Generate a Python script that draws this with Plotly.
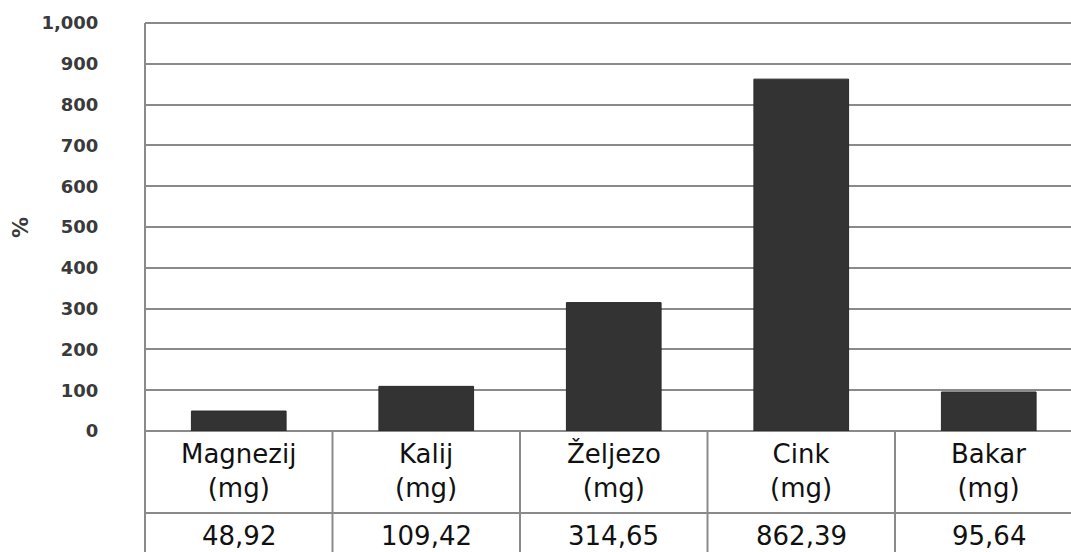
import plotly.graph_objects as go

# data
minerals = ["Magnezij", "Kalij", "Željezo", "Cink", "Bakar"]
units = ["(mg)", "(mg)", "(mg)", "(mg)", "(mg)"]
percent = [48.92, 109.42, 314.65, 862.39, 95.64]
value_labels = ["48,92", "109,42", "314,65", "862,39", "95,64"]
y_ticks = [0, 100, 200, 300, 400, 500, 600, 700, 800, 900, 1000]
y_tick_text = ["0", "100", "200", "300", "400", "500", "600", "700", "800", "900", "1,000"]

LINE = "#8a8a8a"
FONT = "DejaVu Sans"
x_pos = list(range(len(minerals)))

W, H = 1071, 552
ML, MT, MB = 145, 23, 121
plot_w = W - ML
cat_w = 187.5  # pixel width of one category column
x_max = -0.5 + plot_w / cat_w

fig = go.Figure()
fig.add_trace(go.Bar(
    x=x_pos,
    y=percent,
    marker=dict(color="#333333", line=dict(color="#2a2a2a", width=1)),
    hoverinfo="skip",
))

row_split = -0.201
bottom = -0.35
shapes = [
    # top grid line at 1,000
    dict(type="line", xref="paper", yref="paper", x0=0, x1=1, y0=1, y1=1,
         line=dict(color=LINE, width=2)),
    # left border running from top of plot through the table
    dict(type="line", xref="paper", yref="paper", x0=0, x1=0, y0=1, y1=bottom,
         line=dict(color=LINE, width=2)),
    # line between name row and value row
    dict(type="line", xref="paper", yref="paper", x0=0, x1=1, y0=row_split, y1=row_split,
         line=dict(color=LINE, width=2)),
]
for i in x_pos[:-1]:
    shapes.append(dict(type="line", xref="x", yref="paper", x0=i + 0.5, x1=i + 0.5,
                       y0=0, y1=bottom, line=dict(color=LINE, width=2)))

annotations = [
    dict(text="<b>%</b>", xref="paper", yref="paper", x=-124 / plot_w, y=0.5,
         xanchor="center", yanchor="middle", textangle=-90, showarrow=False,
         font=dict(family=FONT, size=21, color="#3a3a3a")),
]
for i, (m, u, v) in enumerate(zip(minerals, units, value_labels)):
    annotations.append(dict(text=f"{m}<br>{u}", xref="x", yref="paper", x=i, y=-0.098,
                            showarrow=False, yanchor="middle",
                            font=dict(family=FONT, size=26, color="#111111")))
    annotations.append(dict(text=v, xref="x", yref="paper", x=i, y=-0.258,
                            showarrow=False, yanchor="middle",
                            font=dict(family=FONT, size=26, color="#111111")))

fig.update_layout(
    width=W,
    height=H,
    margin=dict(l=ML, r=0, t=MT, b=MB),
    paper_bgcolor="white",
    plot_bgcolor="white",
    showlegend=False,
    bargap=0.495,
    shapes=shapes,
    annotations=annotations,
    xaxis=dict(range=[-0.5, x_max], showticklabels=False, showgrid=False,
               zeroline=False, showline=False, fixedrange=True),
    yaxis=dict(range=[0, 1000], tickvals=y_ticks, ticktext=y_tick_text,
               showgrid=True, gridcolor=LINE, gridwidth=2,
               zeroline=True, zerolinecolor=LINE, zerolinewidth=2,
               showline=False, ticks="outside", ticklen=42,
               tickcolor="rgba(0,0,0,0)",
               tickfont=dict(family=FONT, size=18, color="#3a3a3a", weight="bold")),
)

# drop the default body margin so the figure sits at the page corner
fig.write_html("out.html", config={"displayModeBar": False},
               post_script="document.body.style.margin = '0';")
